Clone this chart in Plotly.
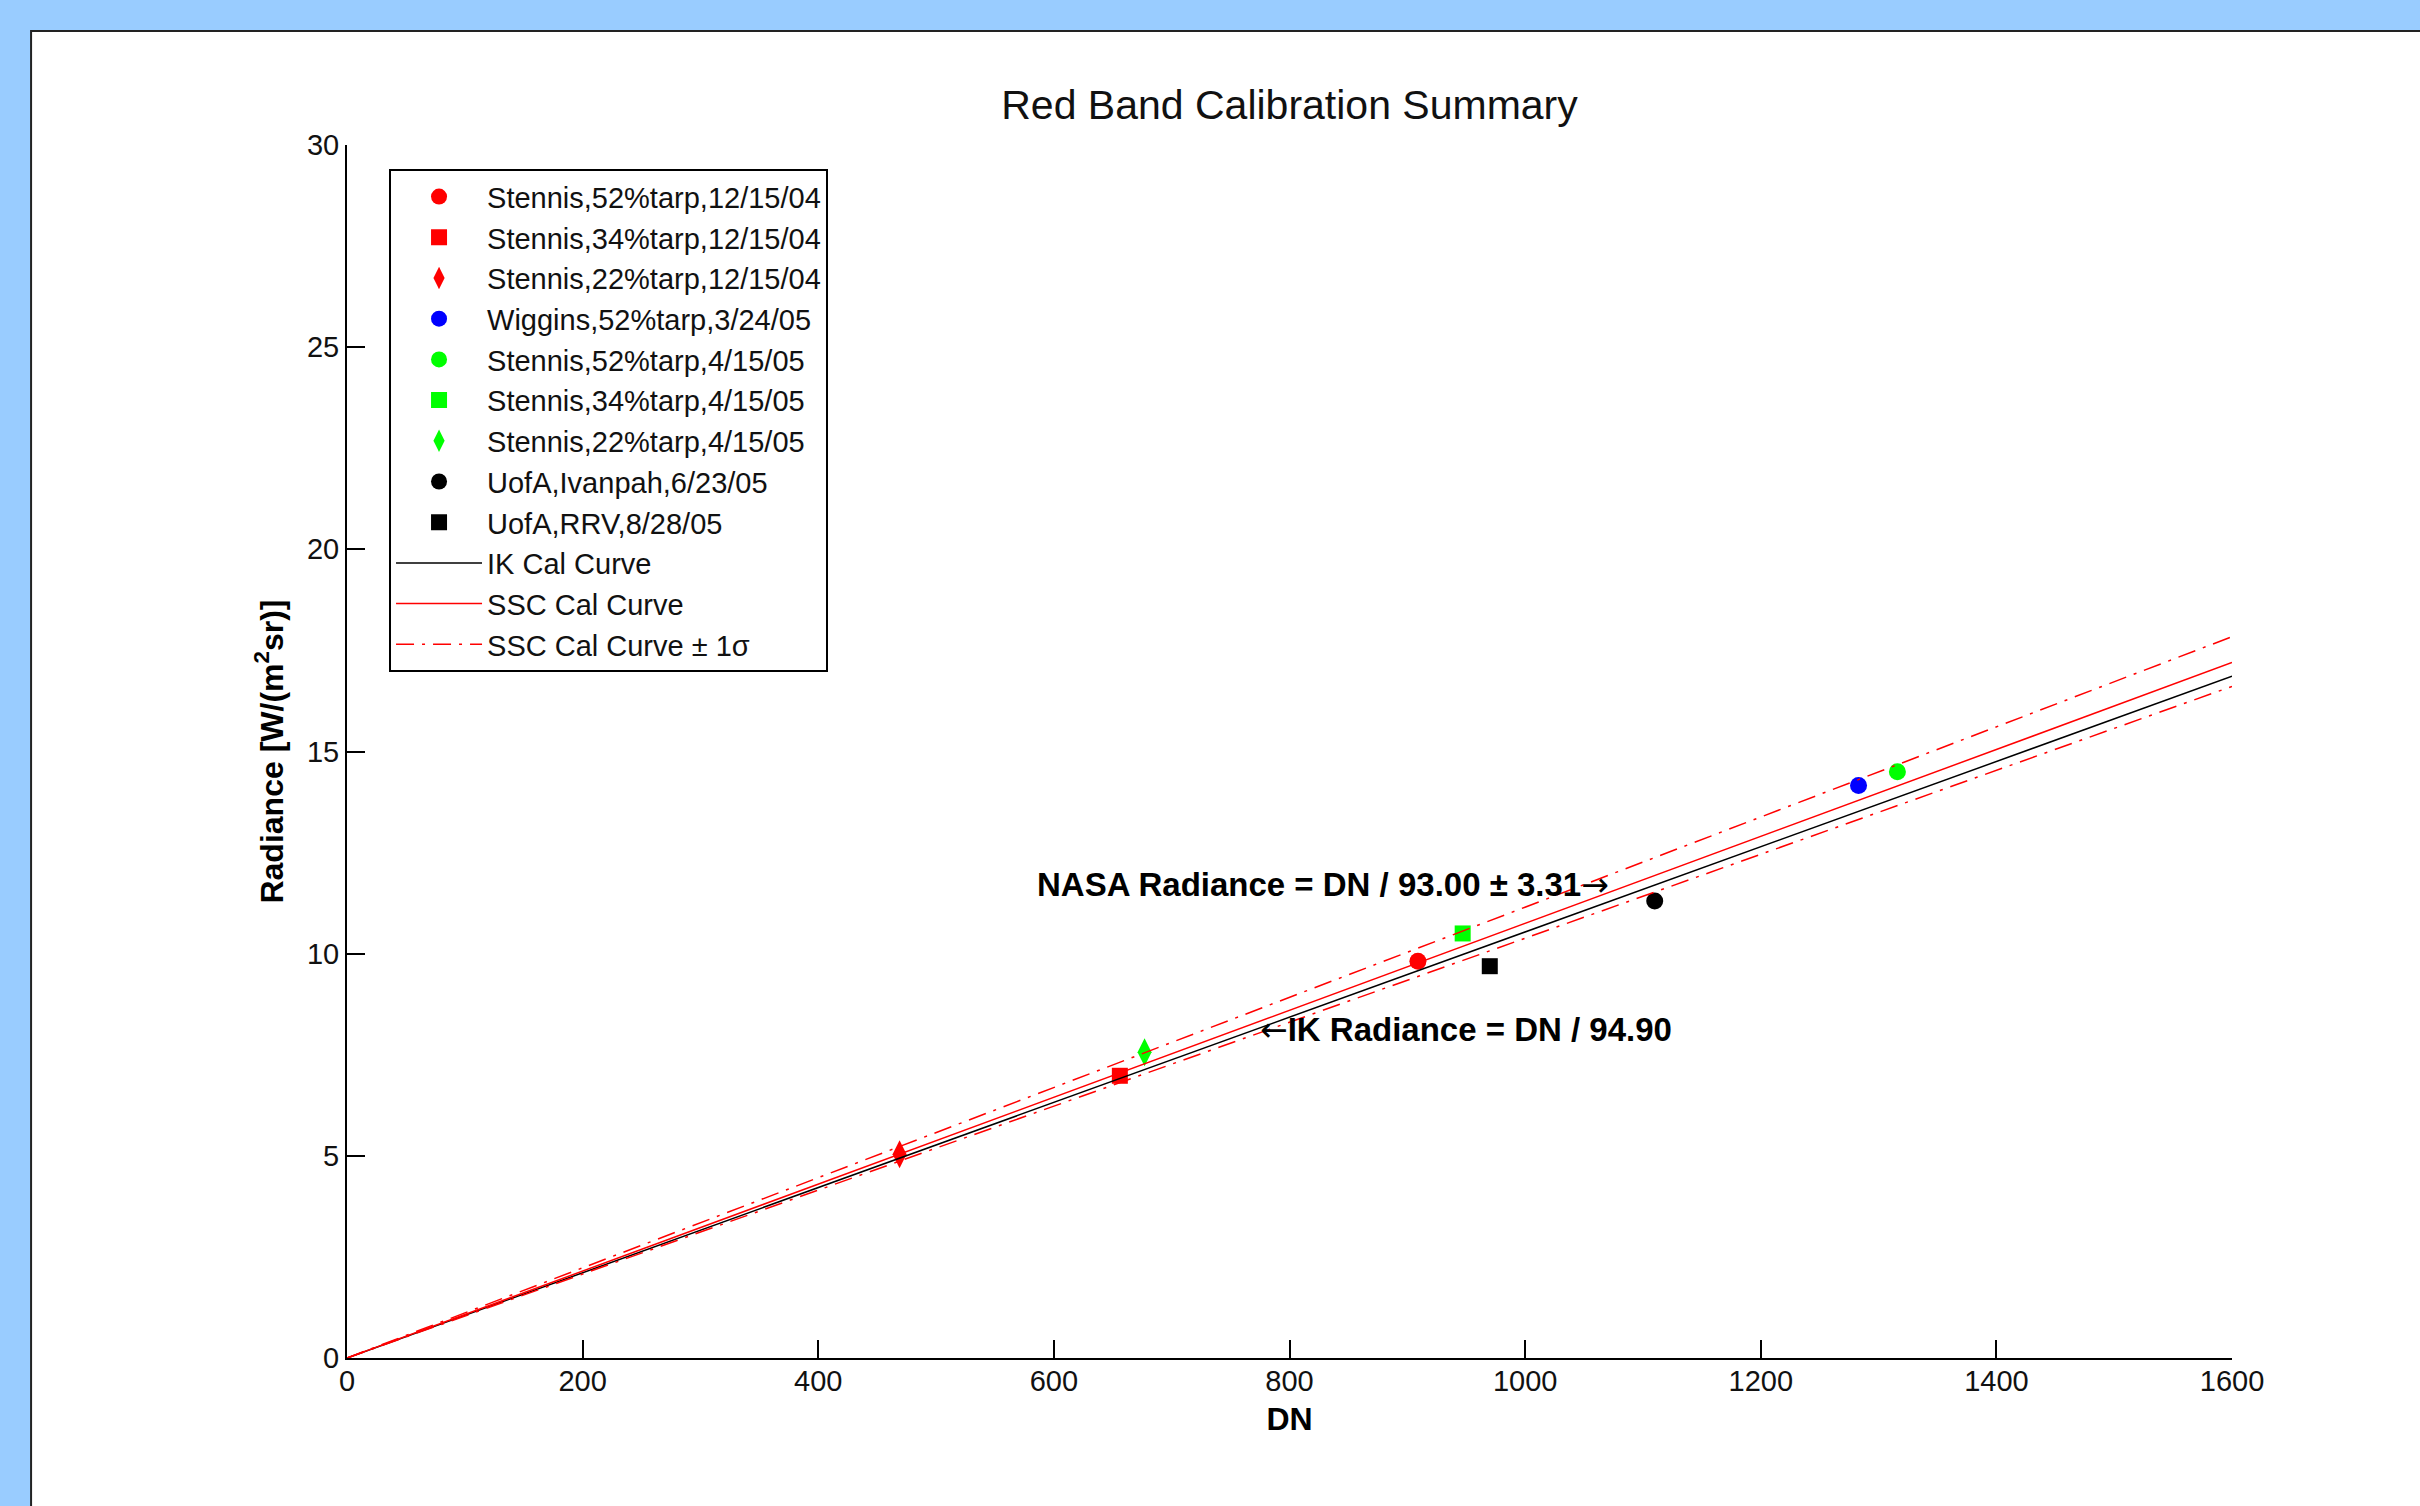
import plotly.graph_objects as go

# measured calibration points (DN, radiance W/(m^2 sr))
stennis52_dec_dn = [909]
stennis52_dec_rad = [9.81]
stennis34_dec_dn = [656]
stennis34_dec_rad = [6.98]
stennis22_dec_dn = [469]
stennis22_dec_rad = [5.04]
wiggins_dn = [1283]
wiggins_rad = [14.16]
stennis52_apr_dn = [1316]
stennis52_apr_rad = [14.50]
stennis34_apr_dn = [947]
stennis34_apr_rad = [10.50]
stennis22_apr_dn = [677]
stennis22_apr_rad = [7.56]
ivanpah_dn = [1110]
ivanpah_rad = [11.30]
rrv_dn = [970]
rrv_rad = [9.69]

# calibration curves, end points
curve_dn = [0, 1600]
ik_curve = [0, 16.86]
ssc_curve = [0, 17.20]
ssc_upper = [0, 17.84]
ssc_lower = [0, 16.61]

x_ticks = [0, 200, 400, 600, 800, 1000, 1200, 1400, 1600]
y_ticks = [0, 5, 10, 15, 20, 25, 30]

FONT = "Liberation Sans, Arial, sans-serif"
TXT = "#111111"
ARROW = '<span style="font-family:DejaVu Sans;font-weight:normal">{}</span>'

points = [
    ("Stennis,52%tarp,12/15/04", stennis52_dec_dn, stennis52_dec_rad, "circle", "#ff0000", 17),
    ("Stennis,34%tarp,12/15/04", stennis34_dec_dn, stennis34_dec_rad, "square", "#ff0000", 16),
    ("Stennis,22%tarp,12/15/04", stennis22_dec_dn, stennis22_dec_rad, "diamond-tall", "#ff0000", 20),
    ("Wiggins,52%tarp,3/24/05", wiggins_dn, wiggins_rad, "circle", "#0000ff", 17),
    ("Stennis,52%tarp,4/15/05", stennis52_apr_dn, stennis52_apr_rad, "circle", "#00ff00", 17),
    ("Stennis,34%tarp,4/15/05", stennis34_apr_dn, stennis34_apr_rad, "square", "#00ff00", 16),
    ("Stennis,22%tarp,4/15/05", stennis22_apr_dn, stennis22_apr_rad, "diamond-tall", "#00ff00", 20),
    ("UofA,Ivanpah,6/23/05", ivanpah_dn, ivanpah_rad, "circle", "#000000", 17),
    ("UofA,RRV,8/28/05", rrv_dn, rrv_rad, "square", "#000000", 16),
]

fig = go.Figure()

for name, xs, ys, sym, col, sz in points:
    fig.add_trace(go.Scatter(
        x=xs, y=ys, mode="markers", name=name,
        marker=dict(symbol=sym, color=col, size=sz, line=dict(width=0)),
    ))

dashdot = "18px,8px,3px,8px"
fig.add_trace(go.Scatter(x=curve_dn, y=ik_curve, mode="lines", name="IK Cal Curve",
                         line=dict(color="#000000", width=1.5)))
fig.add_trace(go.Scatter(x=curve_dn, y=ssc_curve, mode="lines", name="SSC Cal Curve",
                         line=dict(color="#ff0000", width=1.5)))
fig.add_trace(go.Scatter(x=curve_dn, y=ssc_upper, mode="lines", name="SSC Cal Curve \u00b1 1\u03c3",
                         legendgroup="sig", line=dict(color="#ff0000", width=1.5, dash=dashdot)))
fig.add_trace(go.Scatter(x=curve_dn, y=ssc_lower, mode="lines", name="SSC Cal Curve \u00b1 1\u03c3",
                         legendgroup="sig", showlegend=False,
                         line=dict(color="#ff0000", width=1.5, dash=dashdot)))

# text labels on the curves
fig.add_annotation(x=584, y=11.72, xref="x", yref="y", xanchor="left", yanchor="middle",
                   text="<b>NASA Radiance = DN / 93.00 \u00b1 3.31" + ARROW.format("\u2192") + "</b>",
                   showarrow=False, font=dict(family=FONT, size=33, color="#000000"))
fig.add_annotation(x=773, y=8.13, xref="x", yref="y", xanchor="left", yanchor="middle",
                   text="<b>" + ARROW.format("\u2190") + "IK Radiance = DN / 94.90</b>",
                   showarrow=False, font=dict(family=FONT, size=33, color="#000000"))

# white figure panel on the blue window background
fig.add_shape(type="rect", xref="paper", yref="paper", x0=-0.1676, x1=1.3, y0=-0.3, y1=1.094,
              fillcolor="white", line=dict(color="#222222", width=2), layer="below")

fig.update_layout(
    width=2420, height=1506,
    paper_bgcolor="#99ccff", plot_bgcolor="white",
    margin=dict(l=347, r=188, t=145, b=148),
    font=dict(family=FONT, size=29, color=TXT),
    title=dict(text="Red Band Calibration Summary", x=0.5, xref="paper", xanchor="center",
               y=1 - 105 / 1506, yref="container", yanchor="middle",
               font=dict(family=FONT, size=41, color=TXT)),
    showlegend=True,
    legend=dict(x=0.0223, y=0.980, xanchor="left", yanchor="top",
                bgcolor="white", bordercolor="#000000", borderwidth=2,
                font=dict(family=FONT, size=29, color=TXT), itemwidth=86,
                tracegroupgap=0),
)

fig.update_xaxes(range=[0, 1600], tickvals=x_ticks, ticks="inside", ticklen=18, tickwidth=2,
                 tickcolor="#000", showline=True, linecolor="#000", linewidth=2,
                 showgrid=False, zeroline=False, mirror=False, ticklabelstandoff=-4,
                 tickfont=dict(family=FONT, size=29, color=TXT),
                 title=dict(text="<b>DN</b>", standoff=12,
                            font=dict(family=FONT, size=32, color="#000")))
fig.update_yaxes(range=[0, 30], tickvals=y_ticks, ticks="inside", ticklen=18, tickwidth=2,
                 tickcolor="#000", showline=True, linecolor="#000", linewidth=2,
                 showgrid=False, zeroline=False, mirror=False,
                 tickfont=dict(family=FONT, size=29, color=TXT),
                 title=dict(text="<b>Radiance [W/(m<sup>2</sup>sr)]</b>", standoff=14,
                            font=dict(family=FONT, size=32, color="#000")))

# drop the browser's default body margin so the figure sits at the page corner
fig.write_html("out.html", config={"displayModeBar": False},
               post_script="document.body.style.margin='0';")
